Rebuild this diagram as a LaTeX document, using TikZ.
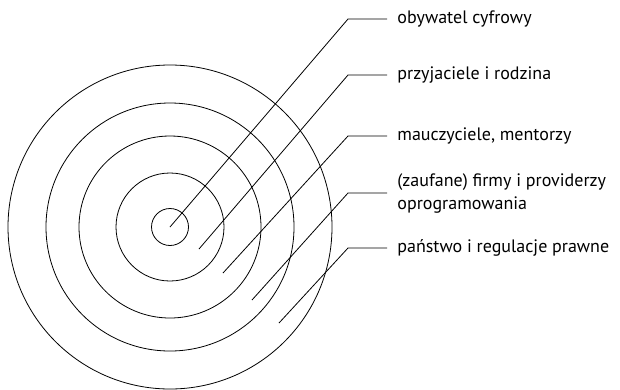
\documentclass[tikz,border=0pt]{standalone}
\usepackage{fontspec}
\setmainfont{PT Sans}
\begin{document}
\begin{tikzpicture}[x=1pt,y=-1pt,line width=0.8pt,
    label/.style={anchor=west,inner xsep=10pt,inner ysep=0pt,align=left,
      font=\fontsize{18}{23}\selectfont}]
    \useasboundingbox (0,0) rectangle (620,389);
    %% rings
    \coordinate (centre) at (170,227);
    \foreach \r in {18.5,54,91,124,162}
        \draw (centre) circle[radius=\r pt];
    %% labels
    \node[label] (l1) at (387,19) {obywatel cyfrowy};
    \node[label] (l2) at (387,75) {przyjaciele i rodzina};
    \node[label] (l3) at (387,136) {mauczyciele, mentorzy};
    \node[label] (l4) at (387,193) {(zaufane) firmy i providerzy\\oprogramowania};
    \node[label] (l5) at (387,248) {państwo i regulacje prawne};
    %% leaders
    \coordinate (t1) at (centre);
    \coordinate (t2) at (199,249);
    \coordinate (t3) at (223,273);
    \coordinate (t4) at (252,300);
    \coordinate (t5) at (279,323);
    \foreach \i in {1,...,5}
        \draw (t\i) -- ([xshift=-39pt]l\i.west) -- (l\i.west);
\end{tikzpicture}
\end{document}
